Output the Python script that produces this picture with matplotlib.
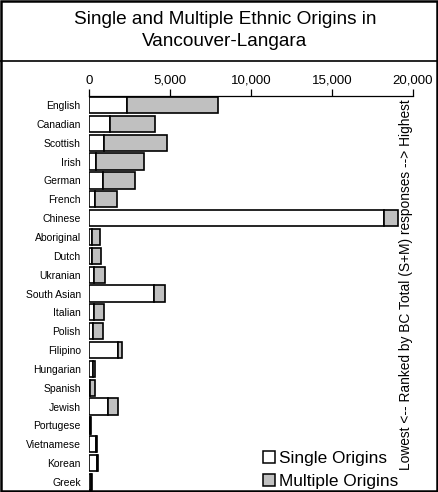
import matplotlib
matplotlib.use("Agg")
import matplotlib.pyplot as plt
from matplotlib.patches import Rectangle, Patch
from matplotlib.lines import Line2D
from matplotlib.ticker import FuncFormatter

categories = ["English", "Canadian", "Scottish", "Irish", "German", "French",
              "Chinese", "Aboriginal", "Dutch", "Ukranian", "South Asian",
              "Italian", "Polish", "Filipino", "Hungarian", "Spanish", "Jewish",
              "Portugese", "Vietnamese", "Korean", "Greek"]
single = [2350, 1300, 930, 410, 860, 340, 18210, 185, 185, 280, 4030,
          290, 270, 1810, 230, 60, 1170, 70, 450, 510, 100]
totals = [7960, 4070, 4810, 3390, 2840, 1730, 19070, 660, 740, 960, 4710,
          930, 890, 2040, 390, 390, 1790, 140, 470, 530, 200]
multiple = [t - s for t, s in zip(totals, single)]

plt.rcParams['font.family'] = ['Liberation Sans', 'DejaVu Sans']

W, H = 438, 492
fig = plt.figure(figsize=(W / 100, H / 100), dpi=100)
ax = fig.add_axes([89 / W, 1 - 491.4 / H, (413 - 89) / W, (491.4 - 95.6) / H])

y = list(range(len(categories)))
ax.barh(y, single, height=0.86, color="white", edgecolor="black", linewidth=1.2)
ax.barh(y, multiple, left=single, height=0.86, color="#c0c0c0",
        edgecolor="black", linewidth=1.2)

ax.set_ylim(len(categories) - 0.5, -0.5)
ax.set_xlim(0, 20000)
ax.set_yticks(y)
ax.set_yticklabels(categories, fontsize=7.5)
ax.tick_params(axis="y", length=0, pad=6)
ax.xaxis.tick_top()
ax.set_xticks([0, 5000, 10000, 15000, 20000])
ax.xaxis.set_major_formatter(FuncFormatter(lambda v, p: f"{int(v):,}"))
ax.tick_params(axis="x", direction="out", length=5, width=0.9, labelsize=9.5, pad=1.5)
for s in ["left", "right", "bottom"]:
    ax.spines[s].set_visible(False)
ax.spines["top"].set_linewidth(0.9)

fig.text(406 / W, 1 - 285 / H,
         "Lowest <-- Ranked by BC Total (S+M) responses --> Highest",
         rotation=90, ha="center", va="center", fontsize=9.9)

handles = [Patch(facecolor="white", edgecolor="black", linewidth=1.1),
           Patch(facecolor="#c0c0c0", edgecolor="black", linewidth=1.1)]
fig.legend(handles, ["Single Origins", "Multiple Origins"],
           loc="lower left", bbox_to_anchor=(263 / W, 1 - 489 / H),
           bbox_transform=fig.transFigure, frameon=False, fontsize=12.4,
           handlelength=0.7, handleheight=0.7, handletextpad=0.25,
           labelspacing=0.45, borderpad=0, borderaxespad=0)

fig.text(225 / W, 1 - 20 / H, "Single and Multiple Ethnic Origins in",
         ha="center", va="center", fontsize=13.7)
fig.text(225 / W, 1 - 42 / H, "Vancouver-Langara",
         ha="center", va="center", fontsize=13.7)

fig.add_artist(Line2D([0, 1], [1 - 61 / H, 1 - 61 / H], transform=fig.transFigure,
                      color="black", linewidth=1.2))
fig.add_artist(Rectangle((1 / W, 1 / H), (W - 2) / W, (H - 2) / H,
                         transform=fig.transFigure, fill=False,
                         edgecolor="black", linewidth=1.8))

fig.savefig("out.png", dpi=100)
